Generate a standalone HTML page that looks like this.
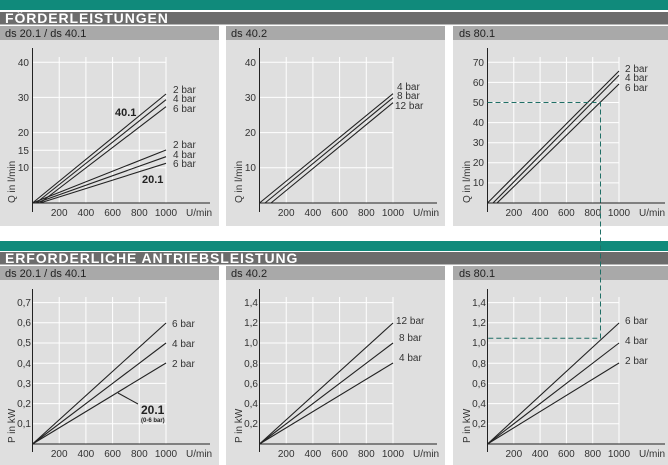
<!DOCTYPE html>
<html><head><meta charset="utf-8"><style>
html,body{margin:0;padding:0;background:#fff;}
svg{display:block;font-family:"Liberation Sans",sans-serif;}
.t{font-size:10px;fill:#333;}
.l{stroke:#222;stroke-width:1.1;fill:none;}
.g{stroke:#fff;stroke-width:1;}
.a{stroke:#222;stroke-width:1;}
.d{stroke:#1f6f66;stroke-width:1;stroke-dasharray:5,3;fill:none;}
.h{font-size:14px;font-weight:bold;fill:#fff;letter-spacing:0.9px;}
.s{font-size:11px;fill:#222;}
</style></head><body>
<svg width="668" height="465" viewBox="0 0 668 465" xmlns="http://www.w3.org/2000/svg">
<rect x="0" y="0" width="668" height="10" fill="#108a7b"/>
<rect x="0" y="12" width="668" height="12.5" fill="#6c6c6c"/>
<text x="5" y="23" class="h">FÖRDERLEISTUNGEN</text>
<rect x="0" y="26" width="219" height="14" fill="#a9a9a9"/>
<rect x="226" y="26" width="219" height="14" fill="#a9a9a9"/>
<rect x="453" y="26" width="215" height="14" fill="#a9a9a9"/>
<text x="5" y="37" class="s">ds 20.1 / ds 40.1</text>
<text x="231" y="37" class="s">ds 40.2</text>
<text x="459" y="37" class="s">ds 80.1</text>
<rect x="0" y="40" width="219" height="186" fill="#dfdfdf"/>
<rect x="226" y="40" width="219" height="186" fill="#dfdfdf"/>
<rect x="453" y="40" width="215" height="186" fill="#dfdfdf"/>
<rect x="0" y="241" width="668" height="10" fill="#108a7b"/>
<rect x="0" y="252" width="668" height="12.5" fill="#6c6c6c"/>
<text x="5" y="263" class="h">ERFORDERLICHE ANTRIEBSLEISTUNG</text>
<rect x="0" y="266" width="219" height="14" fill="#a9a9a9"/>
<rect x="226" y="266" width="219" height="14" fill="#a9a9a9"/>
<rect x="453" y="266" width="215" height="14" fill="#a9a9a9"/>
<text x="5" y="277" class="s">ds 20.1 / ds 40.1</text>
<text x="231" y="277" class="s">ds 40.2</text>
<text x="459" y="277" class="s">ds 80.1</text>
<rect x="0" y="280" width="219" height="185" fill="#dfdfdf"/>
<rect x="226" y="280" width="219" height="185" fill="#dfdfdf"/>
<rect x="453" y="280" width="215" height="185" fill="#dfdfdf"/>

<g class="g">
<line x1="59.2" y1="57" x2="59.2" y2="203"/><line x1="85.9" y1="57" x2="85.9" y2="203"/><line x1="112.6" y1="57" x2="112.6" y2="203"/><line x1="139.3" y1="57" x2="139.3" y2="203"/><line x1="166" y1="57" x2="166" y2="203"/>
<line x1="32.5" y1="62.2" x2="166" y2="62.2"/><line x1="32.5" y1="97.4" x2="166" y2="97.4"/><line x1="32.5" y1="132.6" x2="166" y2="132.6"/><line x1="32.5" y1="150.2" x2="166" y2="150.2"/><line x1="32.5" y1="167.8" x2="166" y2="167.8"/>
</g>
<line class="a" x1="32.5" y1="48" x2="32.5" y2="212"/><line class="a" x1="32.5" y1="203" x2="210" y2="203"/>
<g class="t" text-anchor="end">
<text x="29" y="66">40</text><text x="29" y="101">30</text><text x="29" y="136">20</text><text x="29" y="154">15</text><text x="29" y="171">10</text>
</g>
<g class="t" text-anchor="middle">
<text x="59.2" y="216">200</text><text x="85.9" y="216">400</text><text x="112.6" y="216">600</text><text x="139.3" y="216">800</text><text x="166" y="216">1000</text>
</g>
<text x="186" y="216" class="t">U/min</text>
<text class="t" transform="translate(15,203) rotate(-90)">Q in l/min</text>
<line class="l" x1="32.5" y1="203" x2="166" y2="94"/><line class="l" x1="36" y1="203" x2="166" y2="99.7"/><line class="l" x1="40" y1="203" x2="166" y2="106.7"/>
<line class="l" x1="32.5" y1="203" x2="166" y2="150"/><line class="l" x1="36" y1="203" x2="166" y2="156.7"/><line class="l" x1="40" y1="203" x2="166" y2="163.3"/>
<g class="t"><text x="173" y="93">2  bar</text><text x="173" y="102">4  bar</text><text x="173" y="112">6  bar</text>
<text x="173" y="148">2  bar</text><text x="173" y="158">4  bar</text><text x="173" y="167">6  bar</text></g>
<text x="115" y="116" style="font-size:11px;font-weight:bold;fill:#222">40.1</text>
<text x="142" y="183" style="font-size:11px;font-weight:bold;fill:#222">20.1</text>

<g class="g">
<line x1="286.2" y1="57" x2="286.2" y2="203"/><line x1="312.9" y1="57" x2="312.9" y2="203"/><line x1="339.6" y1="57" x2="339.6" y2="203"/><line x1="366.3" y1="57" x2="366.3" y2="203"/><line x1="393" y1="57" x2="393" y2="203"/>
<line x1="259.5" y1="62.2" x2="393" y2="62.2"/><line x1="259.5" y1="97.4" x2="393" y2="97.4"/><line x1="259.5" y1="132.6" x2="393" y2="132.6"/><line x1="259.5" y1="167.8" x2="393" y2="167.8"/>
</g>
<line class="a" x1="259.5" y1="48" x2="259.5" y2="212"/><line class="a" x1="259.5" y1="203" x2="437" y2="203"/>
<g class="t" text-anchor="end">
<text x="256" y="66">40</text><text x="256" y="101">30</text><text x="256" y="136">20</text><text x="256" y="171">10</text>
</g>
<g class="t" text-anchor="middle">
<text x="286.2" y="216">200</text><text x="312.9" y="216">400</text><text x="339.6" y="216">600</text><text x="366.3" y="216">800</text><text x="393" y="216">1000</text>
</g>
<text x="413" y="216" class="t">U/min</text>
<text class="t" transform="translate(242,203) rotate(-90)">Q in l/min</text>
<line class="l" x1="259.5" y1="203" x2="393" y2="93.7"/><line class="l" x1="265" y1="203" x2="393" y2="97.7"/><line class="l" x1="271" y1="203" x2="393" y2="102.7"/>
<g class="t"><text x="397" y="90">4  bar</text><text x="397" y="99">8  bar</text><text x="395" y="109">12 bar</text></g>

<g class="g">
<line x1="513.8" y1="57" x2="513.8" y2="203"/><line x1="540.1" y1="57" x2="540.1" y2="203"/><line x1="566.4" y1="57" x2="566.4" y2="203"/><line x1="592.7" y1="57" x2="592.7" y2="203"/><line x1="619" y1="57" x2="619" y2="203"/>
<line x1="487.5" y1="62.3" x2="619" y2="62.3"/><line x1="487.5" y1="82.4" x2="619" y2="82.4"/><line x1="487.5" y1="102.5" x2="619" y2="102.5"/><line x1="487.5" y1="122.6" x2="619" y2="122.6"/><line x1="487.5" y1="142.7" x2="619" y2="142.7"/><line x1="487.5" y1="162.8" x2="619" y2="162.8"/><line x1="487.5" y1="182.9" x2="619" y2="182.9"/>
</g>
<line class="a" x1="487.5" y1="48" x2="487.5" y2="212"/><line class="a" x1="487.5" y1="203" x2="665" y2="203"/>
<g class="t" text-anchor="end">
<text x="484" y="66">70</text><text x="484" y="86">60</text><text x="484" y="106">50</text><text x="484" y="126">40</text><text x="484" y="146">30</text><text x="484" y="166">20</text><text x="484" y="186">10</text>
</g>
<g class="t" text-anchor="middle">
<text x="513.8" y="216">200</text><text x="540.1" y="216">400</text><text x="566.4" y="216">600</text><text x="592.7" y="216">800</text><text x="619" y="216">1000</text>
</g>
<text x="639" y="216" class="t">U/min</text>
<text class="t" transform="translate(470,203) rotate(-90)">Q in l/min</text>
<line class="l" x1="487.5" y1="203" x2="619" y2="71"/><line class="l" x1="493" y1="203" x2="619" y2="75.3"/><line class="l" x1="497" y1="203" x2="619" y2="84"/>
<g class="t"><text x="625" y="72">2  bar</text><text x="625" y="81">4  bar</text><text x="625" y="91">6  bar</text></g>

<g class="g">
<line x1="59.2" y1="297" x2="59.2" y2="444"/><line x1="85.9" y1="297" x2="85.9" y2="444"/><line x1="112.6" y1="297" x2="112.6" y2="444"/><line x1="139.3" y1="297" x2="139.3" y2="444"/><line x1="166" y1="297" x2="166" y2="444"/>
<line x1="32.5" y1="302.6" x2="166" y2="302.6"/><line x1="32.5" y1="322.8" x2="166" y2="322.8"/><line x1="32.5" y1="343" x2="166" y2="343"/><line x1="32.5" y1="363.2" x2="166" y2="363.2"/><line x1="32.5" y1="383.4" x2="166" y2="383.4"/><line x1="32.5" y1="403.6" x2="166" y2="403.6"/><line x1="32.5" y1="423.8" x2="166" y2="423.8"/>
</g>
<line class="a" x1="32.5" y1="289" x2="32.5" y2="452"/><line class="a" x1="32.5" y1="444" x2="210" y2="444"/>
<g class="t" text-anchor="end">
<text x="31" y="306">0,7</text><text x="31" y="326">0,6</text><text x="31" y="346">0,5</text><text x="31" y="367">0,4</text><text x="31" y="387">0,3</text><text x="31" y="407">0,2</text><text x="31" y="427">0,1</text>
</g>
<g class="t" text-anchor="middle">
<text x="59.2" y="457">200</text><text x="85.9" y="457">400</text><text x="112.6" y="457">600</text><text x="139.3" y="457">800</text><text x="166" y="457">1000</text>
</g>
<text x="186" y="457" class="t">U/min</text>
<text class="t" transform="translate(15,443) rotate(-90)">P in kW</text>
<line class="l" x1="32.5" y1="444" x2="166" y2="323"/><line class="l" x1="32.5" y1="444" x2="166" y2="343"/><line class="l" x1="32.5" y1="444" x2="166" y2="363"/>
<g class="t"><text x="172" y="327">6  bar</text><text x="172" y="347">4  bar</text><text x="172" y="367">2  bar</text></g>
<line class="a" x1="118" y1="393" x2="138" y2="404"/>
<text x="141" y="414" style="font-size:12px;font-weight:bold;fill:#222">20.1</text>
<text x="141" y="422" style="font-size:6px;font-weight:bold;fill:#222">(0-6 bar)</text>

<g class="g">
<line x1="286.2" y1="297" x2="286.2" y2="444"/><line x1="312.9" y1="297" x2="312.9" y2="444"/><line x1="339.6" y1="297" x2="339.6" y2="444"/><line x1="366.3" y1="297" x2="366.3" y2="444"/><line x1="393" y1="297" x2="393" y2="444"/>
<line x1="259.5" y1="302.6" x2="393" y2="302.6"/><line x1="259.5" y1="322.8" x2="393" y2="322.8"/><line x1="259.5" y1="343" x2="393" y2="343"/><line x1="259.5" y1="363.2" x2="393" y2="363.2"/><line x1="259.5" y1="383.4" x2="393" y2="383.4"/><line x1="259.5" y1="403.6" x2="393" y2="403.6"/><line x1="259.5" y1="423.8" x2="393" y2="423.8"/>
</g>
<line class="a" x1="259.5" y1="289" x2="259.5" y2="452"/><line class="a" x1="259.5" y1="444" x2="437" y2="444"/>
<g class="t" text-anchor="end">
<text x="258" y="306">1,4</text><text x="258" y="326">1,2</text><text x="258" y="346">1,0</text><text x="258" y="367">0,8</text><text x="258" y="387">0,6</text><text x="258" y="407">0,4</text><text x="258" y="427">0,2</text>
</g>
<g class="t" text-anchor="middle">
<text x="286.2" y="457">200</text><text x="312.9" y="457">400</text><text x="339.6" y="457">600</text><text x="366.3" y="457">800</text><text x="393" y="457">1000</text>
</g>
<text x="413" y="457" class="t">U/min</text>
<text class="t" transform="translate(242,443) rotate(-90)">P in kW</text>
<line class="l" x1="259.5" y1="444" x2="393" y2="323"/><line class="l" x1="259.5" y1="444" x2="393" y2="343"/><line class="l" x1="259.5" y1="444" x2="393" y2="363"/>
<g class="t"><text x="396" y="324">12 bar</text><text x="399" y="341">8  bar</text><text x="399" y="361">4  bar</text></g>

<g class="g">
<line x1="513.8" y1="297" x2="513.8" y2="444"/><line x1="540.1" y1="297" x2="540.1" y2="444"/><line x1="566.4" y1="297" x2="566.4" y2="444"/><line x1="592.7" y1="297" x2="592.7" y2="444"/><line x1="619" y1="297" x2="619" y2="444"/>
<line x1="487.5" y1="302.6" x2="619" y2="302.6"/><line x1="487.5" y1="322.8" x2="619" y2="322.8"/><line x1="487.5" y1="343" x2="619" y2="343"/><line x1="487.5" y1="363.2" x2="619" y2="363.2"/><line x1="487.5" y1="383.4" x2="619" y2="383.4"/><line x1="487.5" y1="403.6" x2="619" y2="403.6"/><line x1="487.5" y1="423.8" x2="619" y2="423.8"/>
</g>
<line class="a" x1="487.5" y1="289" x2="487.5" y2="452"/><line class="a" x1="487.5" y1="444" x2="665" y2="444"/>
<g class="t" text-anchor="end">
<text x="486" y="306">1,4</text><text x="486" y="326">1,2</text><text x="486" y="346">1,0</text><text x="486" y="367">0,8</text><text x="486" y="387">0,6</text><text x="486" y="407">0,4</text><text x="486" y="427">0,2</text>
</g>
<g class="t" text-anchor="middle">
<text x="513.8" y="457">200</text><text x="540.1" y="457">400</text><text x="566.4" y="457">600</text><text x="592.7" y="457">800</text><text x="619" y="457">1000</text>
</g>
<text x="639" y="457" class="t">U/min</text>
<text class="t" transform="translate(470,443) rotate(-90)">P in kW</text>
<line class="l" x1="487.5" y1="444" x2="619" y2="323"/><line class="l" x1="487.5" y1="444" x2="619" y2="343"/><line class="l" x1="487.5" y1="444" x2="619" y2="363"/>
<g class="t"><text x="625" y="324">6  bar</text><text x="625" y="344">4  bar</text><text x="625" y="364">2  bar</text></g>

<path class="d" d="M487.5 102.5 H600.5 V338.3 H487.5"/>
</svg>
</body></html>
